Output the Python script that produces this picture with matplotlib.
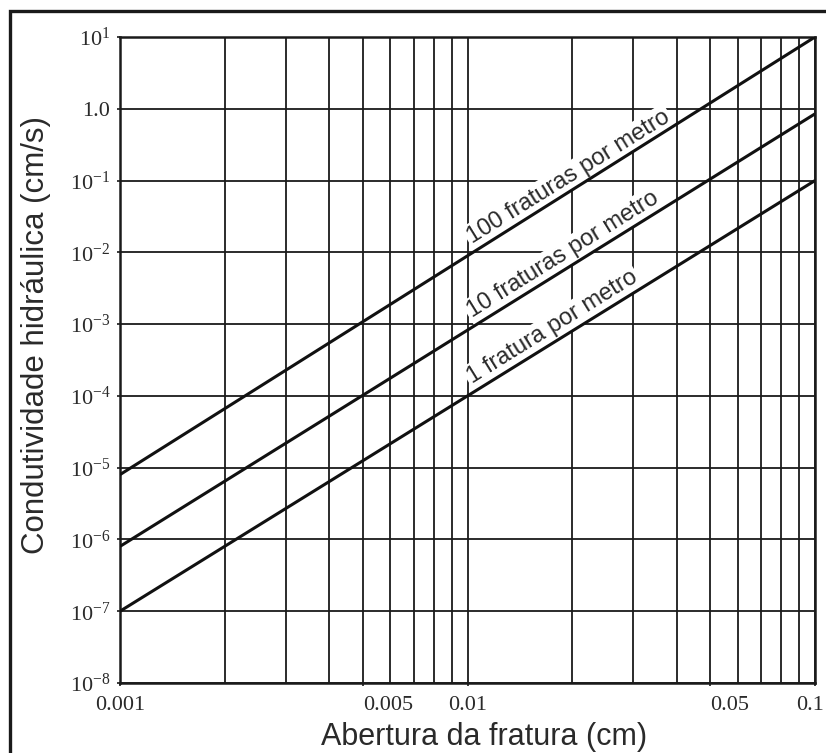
import numpy as np
import matplotlib
matplotlib.use("Agg")
import matplotlib.pyplot as plt
import matplotlib.transforms as mtransforms
from matplotlib.patches import Rectangle
from matplotlib.ticker import FixedLocator, NullFormatter

# ---- data ----
apertura = [0.001, 0.1]                 # cm
k_1_fratura = [1e-7, 0.1]               # cm/s
k_10_fraturas = [8e-7, 0.85]
k_100_fraturas = [8e-6, 10.0]
series_labels = ["1 fratura por metro", "10 fraturas por metro", "100 fraturas por metro"]

x_major = [0.001, 0.005, 0.01, 0.05, 0.1]
x_major_labels = ["0.001", "0.005", "0.01", "0.05", "0.1"]
x_minor = [0.002, 0.003, 0.004, 0.006, 0.007, 0.008, 0.009,
           0.02, 0.03, 0.04, 0.06, 0.07, 0.08, 0.09]
y_ticks = [1e-8, 1e-7, 1e-6, 1e-5, 1e-4, 1e-3, 1e-2, 1e-1, 1.0, 10.0]
y_tick_labels = [r"$10^{-8}$", r"$10^{-7}$", r"$10^{-6}$", r"$10^{-5}$", r"$10^{-4}$",
                 r"$10^{-3}$", r"$10^{-2}$", r"$10^{-1}$", "1.0", r"$10^{1}$"]

plt.rcParams['mathtext.fontset'] = 'custom'
plt.rcParams['mathtext.rm'] = 'Liberation Serif'
plt.rcParams['mathtext.it'] = 'Liberation Serif:italic'
plt.rcParams['mathtext.bf'] = 'Liberation Serif:bold'

W, H = 826, 753
fig = plt.figure(figsize=(W / 100, H / 100), dpi=100)
fig.patch.set_facecolor('white')

ax_l, ax_r, ax_t, ax_b = 120, 815, 37, 683
ax = fig.add_axes([ax_l / W, 1 - ax_b / H, (ax_r - ax_l) / W, (ax_b - ax_t) / H])
ax.set_xscale('log')
ax.set_yscale('log')
ax.set_xlim(0.001, 0.1)
ax.set_ylim(1e-8, 10)

ax.xaxis.set_major_locator(FixedLocator(x_major))
ax.set_xticklabels(x_major_labels)
ax.xaxis.set_minor_locator(FixedLocator(x_minor))
ax.xaxis.set_minor_formatter(NullFormatter())
ax.yaxis.set_major_locator(FixedLocator(y_ticks))
ax.set_yticklabels(y_tick_labels)
ax.yaxis.set_minor_locator(FixedLocator([]))

ax.set_axisbelow(True)
ax.grid(True, which='both', axis='x', color='#1a1a1a', lw=1.3)
ax.grid(True, which='major', axis='y', color='#1a1a1a', lw=1.3)
for s in ax.spines.values():
    s.set_linewidth(1.8)
    s.set_color('#1a1a1a')

ax.tick_params(axis='both', which='both', length=2, width=1.2, color='#1a1a1a')
ax.tick_params(axis='x', which='minor', length=0)
ax.tick_params(axis='y', pad=5)
ax.tick_params(axis='x', pad=7)
for lab in ax.get_yticklabels() + ax.get_xticklabels():
    lab.set_fontfamily('Liberation Serif')
    lab.set_fontsize(16)
    lab.set_color('#2a2a2a')
for lab in ax.get_xticklabels():
    if lab.get_text() in ("0.005", "0.05"):
        lab.set_horizontalalignment('left')
    if lab.get_text() == "0.1":
        lab.set_horizontalalignment('right')
        lab.set_transform(lab.get_transform() + mtransforms.Affine2D().translate(9, 0))

series = [k_1_fratura, k_10_fraturas, k_100_fraturas]
for ys in series:
    ax.plot(apertura, ys, color='#111111', lw=2.2, zorder=5, solid_capstyle='butt')

# angle of lines in display space
p1 = ax.transData.transform((apertura[0], k_1_fratura[0]))
p2 = ax.transData.transform((apertura[1], k_1_fratura[1]))
ang = np.degrees(np.arctan2(p2[1] - p1[1], p2[0] - p1[0]))
th = np.radians(ang)
off = 3
tr = mtransforms.offset_copy(ax.transData, fig=fig, x=-np.sin(th) * off,
                             y=np.cos(th) * off, units='dots')

x_lab = 0.0106
for ys, lab in zip(series, series_labels):
    lx0, lx1 = np.log10(apertura)
    ly0, ly1 = np.log10(ys)
    ly = ly0 + (np.log10(x_lab) - lx0) * (ly1 - ly0) / (lx1 - lx0)
    ax.text(x_lab, 10 ** ly, lab, transform=tr, rotation=ang, rotation_mode='anchor',
            ha='left', va='bottom', fontsize=17, family='Liberation Sans', color='#2a2a2a',
            zorder=4, bbox=dict(facecolor='white', edgecolor='none', pad=1.5))

fig.text(484 / W, 1 - 745 / H, "Abertura da fratura (cm)", ha='center', va='baseline',
         fontsize=22, family='Liberation Sans', color='#2a2a2a')
fig.text(44 / W, 1 - 335 / H, "Condutividade hidráulica (cm/s)", rotation=90,
         rotation_mode='anchor', ha='center', va='baseline',
         fontsize=22.5, family='Liberation Sans', color='#2a2a2a')

# outer frame
fig.add_artist(Rectangle((10 / W, -0.05), 1.1, 1 - 11 / H + 0.05, transform=fig.transFigure,
                         fill=False, edgecolor='#1a1a1a', lw=2.4, clip_on=False))

fig.savefig('out.png', dpi=100, facecolor='white')
